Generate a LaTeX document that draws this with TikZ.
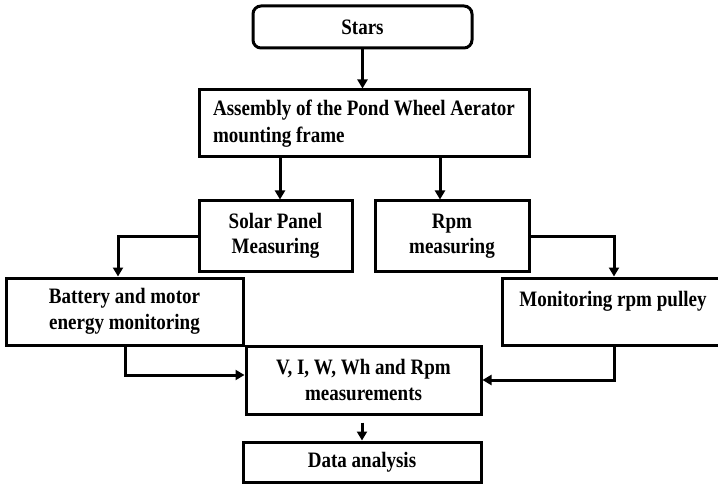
\documentclass[tikz,border=0pt]{standalone}
\usepackage{fontspec}
\setmainfont{Liberation Serif}[FakeStretch=0.865]
\usetikzlibrary{arrows.meta}
\begin{document}
\begin{tikzpicture}[x=1pt,y=-1pt,
  box/.style={draw, line width=3pt, inner sep=0pt, align=center,
    font=\fontsize{22}{25.5}\selectfont\bfseries},
  arr/.style={line width=3pt, -{Triangle[length=9pt,width=10pt]}}]
\clip (0,0) rectangle (718,484);
\fill[white] (0,0) rectangle (718,484);
\node[box, rounded corners=8pt, minimum width=219pt, minimum height=42pt] (stars) at (362.5,27) {Stars};
\node[box, align=left, minimum width=330pt, minimum height=67pt, font=\fontsize{22}{27}\selectfont\bfseries] (asm) at (364,123.5)
  {Assembly of the Pond Wheel Aerator\\ mounting frame};
\node[box, minimum width=153pt, minimum height=70pt] (solar) at (275.5,236) {Solar Panel\\ Measuring};
\node[box, minimum width=154pt, minimum height=70pt] (rpm) at (452,236) {Rpm\\ measuring};
\node[box, minimum width=237pt, minimum height=67pt] (bat) at (124.5,311.5) {Battery and motor\\ energy monitoring};
\node[box, minimum width=222pt, minimum height=67pt] (mon) at (613,311.5) {Monitoring rpm pulley\\ ~};
\node[box, minimum width=235pt, minimum height=68pt] (vm) at (363.5,380) {V, I, W, Wh and Rpm\\ measurements};
\node[box, minimum width=238pt, minimum height=40pt] (data) at (362,462) {Data analysis};
\draw[arr] (stars.south) -- (stars.south |- asm.north);
\draw[arr] ([xshift=4.5pt]solar.north |- asm.south) -- ([xshift=4.5pt]solar.north);
\draw[arr] ([xshift=-12pt]rpm.north |- asm.south) -- ([xshift=-12pt]rpm.north);
\draw[arr] (solar.west) -| ([xshift=-6.5pt]bat.north);
\draw[arr] (rpm.east) -| ([xshift=1pt]mon.north);
\draw[arr] ([xshift=0.5pt]bat.south) |- ([yshift=5pt]vm.west);
\draw[arr] ([xshift=1pt]mon.south) |- (vm.east);
\draw[arr, shorten <=7pt] (vm.south -| data.north) -- (data.north);
\end{tikzpicture}
\end{document}
